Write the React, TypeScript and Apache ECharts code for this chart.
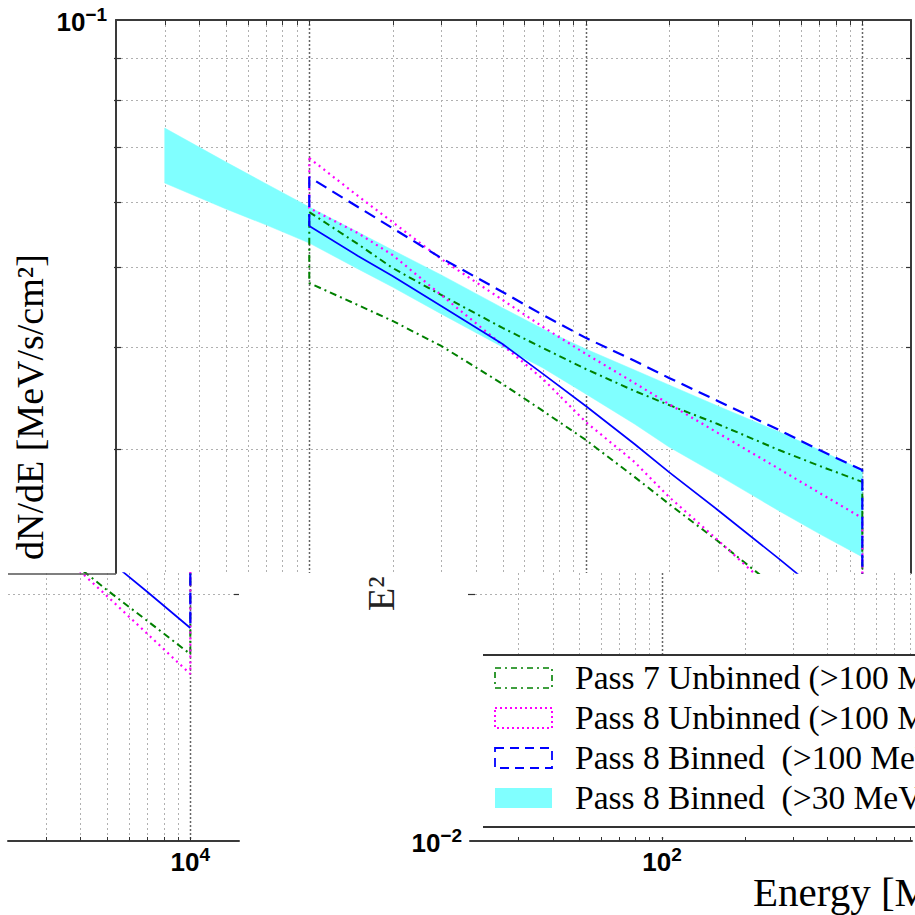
import React, { useEffect, useRef } from 'react';
import * as echarts from 'echarts';

// ---------------- data ----------------
const energies = [100, 150, 200, 300, 500, 700, 1000, 1500, 2000, 3000, 5000, 7000, 10000];
const pass7UnbinnedHigh = [0.05835, 0.05333, 0.04989, 0.04624, 0.04216, 0.03985, 0.03757, 0.03533, 0.03396, 0.0322, 0.02993, 0.02863, 0.02737];
const pass7UnbinnedLow = [0.04782, 0.04495, 0.043, 0.04008, 0.03603, 0.0334, 0.03079, 0.02776, 0.02573, 0.02319, 0.02021, 0.01853, 0.01689];
const pass8UnbinnedHigh = [0.06788, 0.06104, 0.05673, 0.05115, 0.0456, 0.04228, 0.0392, 0.03613, 0.03405, 0.03141, 0.02839, 0.02654, 0.02473];
const pass8UnbinnedLow = [0.05901, 0.055, 0.05173, 0.04624, 0.04019, 0.03653, 0.03238, 0.02895, 0.02624, 0.02326, 0.01987, 0.01787, 0.01597];
const pass8BinnedHigh = [0.06435, 0.05918, 0.05578, 0.05129, 0.04663, 0.04372, 0.041, 0.03844, 0.03664, 0.03435, 0.03166, 0.02993, 0.0283];
const pass8BinnedLow = [0.0561, 0.05159, 0.04878, 0.04483, 0.0403, 0.03706, 0.03387, 0.03044, 0.02813, 0.0253, 0.02206, 0.0201, 0.01817];

const bandEnergies = [30, 50, 70, 100, 150, 200, 300, 500, 700, 1000, 1500, 2000, 3000, 5000, 7000, 10000];
const band30High = [0.07386, 0.06713, 0.06313, 0.05918, 0.05516, 0.05245, 0.04892, 0.04459, 0.04204, 0.03974, 0.03747, 0.03593, 0.03387, 0.0315, 0.02993, 0.0283];
const band30Low = [0.0633, 0.05885, 0.05626, 0.05349, 0.04975, 0.04728, 0.04385, 0.03996, 0.03768, 0.03503, 0.0322, 0.03019, 0.02792, 0.02523, 0.02366, 0.02218];

const legendLabels = [
  'Pass 7 Unbinned (>100 MeV)',
  'Pass 8 Unbinned (>100 MeV)',
  'Pass 8 Binned  (>100 MeV)',
  'Pass 8 Binned  (>30 MeV)',
];

const energyMinorTicks = [30, 40, 50, 60, 70, 80, 90, 200, 300, 400, 500, 600, 700, 800, 900, 2000, 3000, 4000, 5000, 6000, 7000, 8000, 9000];
const energyMajorTicks = [100, 1000, 10000];
const fluxMinorTicks = [0.02, 0.03, 0.04, 0.05, 0.06, 0.07, 0.08, 0.09];

const yLabelMain = 'dN/dE [MeV/s/cm²]';
const yLabelPrefix = 'E²';
const xLabel = 'Energy [MeV]';

// ---------------- styles ----------------
const SANS = '"Liberation Sans", Arial, sans-serif';
const SERIF = '"Liberation Serif", "Times New Roman", serif';
const GREEN = '#008000';
const MAGENTA = '#ff00ff';
const BLUE = '#0000ff';
const CYAN = '#80ffff';
const AXIS = '#3a3a3a';
const TICK = '#333333';

function decadeLabel(v: number): string {
  const e = Math.log10(v);
  const r = Math.round(e);
  if (Math.abs(e - r) > 1e-6) return '';
  return `{b|10}{s|${r < 0 ? '−' + -r : r}}`;
}
const labelRich = {
  b: { fontFamily: SANS, fontWeight: 'bold', fontSize: 26, color: '#000', lineHeight: 30, verticalAlign: 'bottom' },
  s: { fontFamily: SANS, fontWeight: 'bold', fontSize: 19, color: '#000', lineHeight: 18, verticalAlign: 'top' },
};

function pairs(xs: number[], ys: number[]) {
  return xs.map((x, i) => [x, ys[i]]);
}
function closedOutline(hi: number[], lo: number[]) {
  const up = pairs(energies, hi);
  const dn = pairs(energies, lo).reverse();
  return [...up, ...dn, up[0]];
}

function curveSeries(xIdx: number, yIdx: number) {
  const base = { type: 'line', xAxisIndex: xIdx, yAxisIndex: yIdx, showSymbol: false, symbol: 'none', silent: true, clip: true, z: 3 };
  const n = energies.length - 1;
  return [
    { ...base, name: legendLabels[0], data: closedOutline(pass7UnbinnedHigh, pass7UnbinnedLow), lineStyle: { color: GREEN, width: 2, type: [7, 4, 2, 4] } },
    { ...base, name: legendLabels[1], data: closedOutline(pass8UnbinnedHigh, pass8UnbinnedLow), lineStyle: { color: MAGENTA, width: 2.2, type: [2, 4] } },
    {
      ...base, name: legendLabels[2],
      data: [[energies[0], pass8BinnedLow[0]], ...pairs(energies, pass8BinnedHigh), [energies[n], pass8BinnedLow[n]]],
      lineStyle: { color: BLUE, width: 2.2, type: [12, 7] },
    },
    { ...base, name: legendLabels[2] + ' low', data: pairs(energies, pass8BinnedLow), lineStyle: { color: BLUE, width: 1.7, type: 'solid' } },
  ];
}

function vGridSeries(xIdx: number, yIdx: number, yRef: number, tickTop: boolean, tickBottom: boolean) {
  const data = [...energyMinorTicks.map((v) => [v, yRef, 0]), ...energyMajorTicks.map((v) => [v, yRef, 1])];
  return {
    type: 'custom', xAxisIndex: xIdx, yAxisIndex: yIdx, silent: true, z: 1, data,
    renderItem: (params: any, api: any) => {
      const cs = params.coordSys;
      const x = Math.round(api.coord([api.value(0), yRef])[0]) + 0.5;
      if (x < cs.x + 1 || x > cs.x + cs.width - 1) return null;
      const major = api.value(2) === 1;
      const top = cs.y;
      const bot = cs.y + cs.height;
      const children: any[] = [
        {
          type: 'line', shape: { x1: x, y1: top, x2: x, y2: bot },
          style: { stroke: major ? '#666' : '#b0b0b0', lineWidth: major ? 1.5 : 1, lineDash: major ? [2, 2] : [2, 3] },
        },
      ];
      if (tickTop) children.push({ type: 'line', shape: { x1: x, y1: top, x2: x, y2: top + 5 }, style: { stroke: TICK, lineWidth: 1 } });
      if (tickBottom) children.push({ type: 'line', shape: { x1: x, y1: bot - 4, x2: x, y2: bot }, style: { stroke: TICK, lineWidth: 1 } });
      return { type: 'group', children };
    },
  };
}

function hGridSeries(xIdx: number, yIdx: number, xRef: number, tickLeft: boolean, tickRight: boolean) {
  const data = fluxMinorTicks.map((v) => [xRef, v]);
  return {
    type: 'custom', xAxisIndex: xIdx, yAxisIndex: yIdx, silent: true, z: 1, data,
    renderItem: (params: any, api: any) => {
      const cs = params.coordSys;
      const y = Math.round(api.coord([xRef, api.value(1)])[1]) + 0.5;
      if (y < cs.y + 1 || y > cs.y + cs.height - 1) return null;
      const l = cs.x;
      const r = cs.x + cs.width;
      const children: any[] = [
        { type: 'line', shape: { x1: l, y1: y, x2: r, y2: y }, style: { stroke: '#b0b0b0', lineWidth: 1, lineDash: [2, 3] } },
      ];
      if (tickLeft) children.push({ type: 'line', shape: { x1: l - 2, y1: y, x2: l + 5, y2: y }, style: { stroke: TICK, lineWidth: 1.2 } });
      if (tickRight) children.push({ type: 'line', shape: { x1: r - 5, y1: y, x2: r, y2: y }, style: { stroke: TICK, lineWidth: 1.2 } });
      return { type: 'group', children };
    },
  };
}

const bandSeries = {
  type: 'custom', name: legendLabels[3], xAxisIndex: 0, yAxisIndex: 0, silent: true, z: 2,
  data: [[bandEnergies[0], band30High[0]]],
  renderItem: (_params: any, api: any) => {
    const top = bandEnergies.map((e, i) => api.coord([e, band30High[i]]));
    const bottom = bandEnergies.map((e, i) => api.coord([e, band30Low[i]])).reverse();
    return { type: 'polygon', shape: { points: [...top, ...bottom] }, style: { fill: CYAN, stroke: CYAN, lineWidth: 0.5 } };
  },
};

const legendBoxStyles = [
  { stroke: GREEN, lineDash: [6, 4, 2, 4], lineWidth: 1.6, fill: 'none' },
  { stroke: MAGENTA, lineDash: [2, 3], lineWidth: 2, fill: 'none' },
  { stroke: BLUE, lineDash: [9, 6], lineWidth: 1.8, fill: 'none' },
  { fill: CYAN },
];
const legendRowY = [678, 718, 758, 798];

function buildGraphic() {
  const els: any[] = [];
  els.push({ type: 'line', z: 60, shape: { x1: 8, y1: 574, x2: 116, y2: 574 }, style: { stroke: '#555', lineWidth: 1.5 } });
  els.push({ type: 'rect', z: 50, shape: { x: 483, y: 656, width: 440, height: 180 }, style: { fill: '#fff' } });
  els.push({ type: 'line', z: 60, shape: { x1: 483, y1: 655, x2: 915, y2: 655 }, style: { stroke: '#333', lineWidth: 2 } });
  els.push({ type: 'line', z: 60, shape: { x1: 483, y1: 827, x2: 915, y2: 827 }, style: { stroke: '#333', lineWidth: 2 } });
  legendLabels.forEach((label, i) => {
    const cy = legendRowY[i];
    els.push({ type: 'rect', z: 60, shape: { x: 495, y: cy - 10, width: 57, height: 20 }, style: legendBoxStyles[i] });
    els.push({
      type: 'text', z: 60, x: 575, y: cy - 1,
      style: { text: label, fontFamily: SERIF, fontSize: 33.5, fill: '#000', align: 'left', verticalAlign: 'middle' },
    });
  });
  els.push({
    type: 'text', z: 60, x: 30, y: 560, rotation: Math.PI / 2,
    style: { text: yLabelMain, fontFamily: SERIF, fontSize: 38, fill: '#000', align: 'left', verticalAlign: 'middle' },
  });
  els.push({
    type: 'text', z: 60, x: 381, y: 611, rotation: Math.PI / 2,
    style: { text: yLabelPrefix, fontFamily: SERIF, fontSize: 38, fill: '#222', align: 'left', verticalAlign: 'middle' },
  });
  els.push({
    type: 'text', z: 60, x: 753, y: 892,
    style: { text: xLabel, fontFamily: SERIF, fontSize: 41, fill: '#000', align: 'left', verticalAlign: 'middle' },
  });
  return els;
}

export default function App() {
  const ref = useRef<HTMLDivElement>(null);
  useEffect(() => {
    if (!ref.current) return;
    const chart = echarts.init(ref.current, undefined, { renderer: 'svg' });
    const axisLine = { show: true, lineStyle: { color: AXIS, width: 2 } };
    const option: any = {
      animation: false,
      backgroundColor: '#ffffff',
      grid: [
        { left: 116, top: 20, width: 795, height: 553 },
        { left: 470, top: 573, width: 445, height: 268 },
        { left: 8, top: 573, width: 231, height: 268 },
      ],
      xAxis: [
        { gridIndex: 0, type: 'log', min: 20, max: 15000, position: 'top', axisLine, axisTick: { show: false }, axisLabel: { show: false }, splitLine: { show: false } },
        {
          gridIndex: 1, type: 'log', min: 20, max: 813, position: 'bottom', axisLine, axisTick: { show: false }, splitLine: { show: false },
          axisLabel: { formatter: decadeLabel, rich: labelRich, margin: 4 },
        },
        {
          gridIndex: 2, type: 'log', min: 2191, max: 15000, position: 'bottom', axisLine, axisTick: { show: false }, splitLine: { show: false },
          axisLabel: { formatter: decadeLabel, rich: labelRich, margin: 4 },
        },
      ],
      yAxis: [
        {
          gridIndex: 0, type: 'log', min: 0.0212, max: 0.1, position: 'left', axisLine, axisTick: { show: false }, splitLine: { show: false },
          axisLabel: { formatter: decadeLabel, rich: labelRich, margin: 9 },
        },
        { gridIndex: 0, type: 'log', min: 0.0212, max: 0.1, position: 'right', axisLine, axisTick: { show: false }, axisLabel: { show: false }, splitLine: { show: false } },
        {
          gridIndex: 1, type: 'log', min: 0.01, max: 0.0212, position: 'left', axisLine: { show: false }, axisTick: { show: false }, splitLine: { show: false },
          axisLabel: { formatter: decadeLabel, rich: labelRich, margin: 8 },
        },
        { gridIndex: 2, type: 'log', min: 0.01, max: 0.0212, show: false },
      ],
      series: [
        vGridSeries(0, 0, 0.05, true, false),
        hGridSeries(0, 0, 1000, true, true),
        vGridSeries(1, 2, 0.015, false, true),
        hGridSeries(1, 2, 300, true, false),
        vGridSeries(2, 3, 0.015, false, true),
        hGridSeries(2, 3, 5000, false, true),
        bandSeries,
        ...curveSeries(0, 0),
        ...curveSeries(2, 3),
      ],
      graphic: buildGraphic(),
    };
    chart.setOption(option);
    return () => chart.dispose();
  }, []);
  return <div ref={ref} style={{ position: 'absolute', left: 0, top: 0, width: 915, height: 915 }} />;
}
